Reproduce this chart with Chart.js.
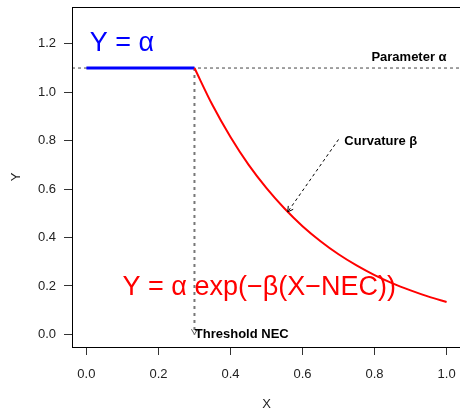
<!DOCTYPE html>
<html>
<head>
<meta charset="utf-8">
<script src="https://cdn.jsdelivr.net/npm/chart.js@4/dist/chart.umd.min.js"></script>
<style>
  html, body { margin: 0; padding: 0; background: #fff; overflow: hidden; }
  #wrap { width: 460px; height: 410px; overflow: hidden; }
</style>
</head>
<body>
<div id="wrap"><canvas id="necChart" width="462" height="410"></canvas></div>
<script>
// values
const xTicks = [0, 0.2, 0.4, 0.6, 0.8, 1.0];
const yTicks = [0, 0.2, 0.4, 0.6, 0.8, 1.0, 1.2];
const alpha = 1.1;
const nec = 0.3;
const flatX = [0, 0.3];
const flatY = [1.1, 1.1];
const curveX = [0.30, 0.35, 0.40, 0.45, 0.50, 0.55, 0.60, 0.65, 0.70, 0.75, 0.80, 0.85, 0.90, 0.95, 1.00];
const curveY = [1.100, 0.947, 0.815, 0.701, 0.604, 0.520, 0.447, 0.385, 0.331, 0.285, 0.245, 0.211, 0.182, 0.156, 0.134];

const xMin = -0.04, xMax = 1.04;
const yMin = -0.052, yMax = 1.352;
const FONT = "'Liberation Sans', Arial, Helvetica, sans-serif";

function pts(xs, ys) {
  return xs.map((x, i) => ({ x: x, y: ys[i] }));
}

function arrowHead(ctx, x0, y0, x1, y1, len) {
  const ang = Math.atan2(y1 - y0, x1 - x0);
  ctx.beginPath();
  ctx.moveTo(x1 - len * Math.cos(ang - Math.PI / 6), y1 - len * Math.sin(ang - Math.PI / 6));
  ctx.lineTo(x1, y1);
  ctx.lineTo(x1 - len * Math.cos(ang + Math.PI / 6), y1 - len * Math.sin(ang + Math.PI / 6));
  ctx.stroke();
}

// box, arrows and labels
const annotate = {
  id: 'annotate',
  afterDatasetsDraw(chart) {
    const { ctx, chartArea: a, scales: { x, y } } = chart;
    ctx.save();
    ctx.setLineDash([]);
    ctx.strokeStyle = '#000';
    ctx.lineWidth = 1;
    ctx.strokeRect(a.left + 0.5, a.top + 0.5, a.right - a.left, a.bottom - a.top);

    // arrowhead of the NEC line
    ctx.strokeStyle = '#555';
    arrowHead(ctx, x.getPixelForValue(nec), y.getPixelForValue(alpha),
      x.getPixelForValue(nec), y.getPixelForValue(0), 6);

    // curvature pointer
    const cx0 = x.getPixelForValue(0.70), cy0 = y.getPixelForValue(0.805);
    const cx1 = x.getPixelForValue(0.559), cy1 = y.getPixelForValue(0.506);
    ctx.strokeStyle = '#000';
    ctx.setLineDash([3, 3]);
    ctx.beginPath();
    ctx.moveTo(cx0, cy0);
    ctx.lineTo(cx1, cy1);
    ctx.stroke();
    ctx.setLineDash([]);
    arrowHead(ctx, cx0, cy0, cx1, cy1, 6);

    ctx.textBaseline = 'alphabetic';
    ctx.fillStyle = '#000';
    ctx.font = 'bold 13px ' + FONT;
    ctx.textAlign = 'right';
    ctx.fillText('Parameter α', x.getPixelForValue(1.0), y.getPixelForValue(1.128));
    ctx.textAlign = 'left';
    ctx.fillText('Curvature β', x.getPixelForValue(0.716), y.getPixelForValue(0.784));
    ctx.fillText('Threshold NEC', x.getPixelForValue(0.301), y.getPixelForValue(-0.0136));

    ctx.font = '27px ' + FONT;
    ctx.fillStyle = '#0000ff';
    ctx.textAlign = 'left';
    ctx.fillText('Y = α', x.getPixelForValue(0.009), y.getPixelForValue(1.169));
    ctx.fillStyle = '#ff0000';
    ctx.textAlign = 'center';
    ctx.fillText('Y = α exp(−β(X−NEC))', x.getPixelForValue(0.48), y.getPixelForValue(0.164));
    ctx.restore();
  }
};

const tickFont = { family: FONT, size: 13 };

new Chart(document.getElementById('necChart'), {
  type: 'scatter',
  data: {
    datasets: [
      {
        data: pts([xMin, xMax], [alpha, alpha]),
        showLine: true, pointRadius: 0,
        borderColor: '#444', borderWidth: 1, borderDash: [3, 3],
        order: 3
      },
      {
        data: pts([nec, nec], [alpha, 0]),
        showLine: true, pointRadius: 0,
        borderColor: '#777', borderWidth: 2, borderDash: [3, 4],
        order: 2
      },
      {
        data: pts(flatX, flatY),
        showLine: true, pointRadius: 0,
        borderColor: '#0000ff', borderWidth: 3,
        order: 1
      },
      {
        data: pts(curveX, curveY),
        showLine: true, pointRadius: 0,
        borderColor: '#ff0000', borderWidth: 2,
        cubicInterpolationMode: 'monotone',
        order: 0
      }
    ]
  },
  options: {
    responsive: false,
    animation: false,
    layout: { padding: { left: 0, right: 1, top: 7, bottom: 0 } },
    plugins: {
      legend: { display: false },
      tooltip: { enabled: false }
    },
    scales: {
      x: {
        type: 'linear', min: xMin, max: xMax,
        afterBuildTicks: s => { s.ticks = xTicks.map(v => ({ value: v })); },
        afterFit: s => { s.height = 63; s.paddingLeft = 0; s.paddingRight = 0; },
        ticks: {
          color: '#222', font: tickFont, padding: 12,
          maxRotation: 0, autoSkip: false,
          callback: v => Number(v).toFixed(1)
        },
        grid: { drawOnChartArea: false, drawTicks: true, tickLength: 8, color: '#333' },
        border: { display: false },
        title: { display: true, text: 'X', color: '#222', font: tickFont, padding: { top: 0, bottom: -2 } }
      },
      y: {
        type: 'linear', min: yMin, max: yMax,
        afterBuildTicks: s => { s.ticks = yTicks.map(v => ({ value: v })); },
        afterFit: s => { s.width = 72; s.paddingTop = 0; s.paddingBottom = 0; },
        ticks: {
          color: '#222', font: tickFont, padding: 8,
          autoSkip: false,
          callback: v => Number(v).toFixed(1)
        },
        grid: { drawOnChartArea: false, drawTicks: true, tickLength: 8, color: '#333' },
        border: { display: false },
        title: { display: true, text: 'Y', color: '#222', font: tickFont, padding: { top: 9, bottom: 0 } }
      }
    }
  },
  plugins: [annotate]
});
</script>
</body>
</html>
